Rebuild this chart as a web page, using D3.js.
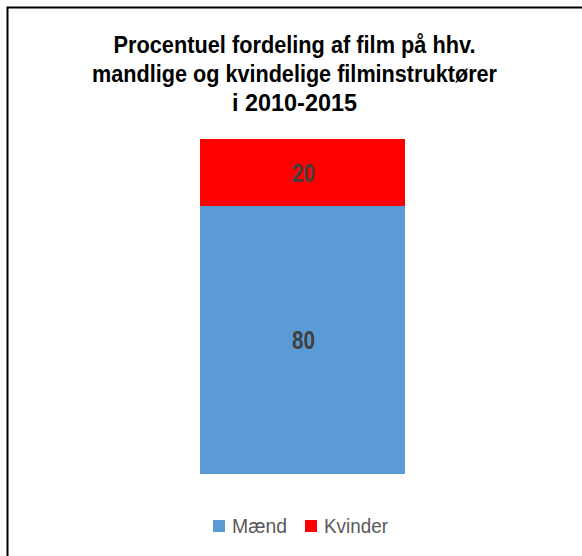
<!DOCTYPE html>
<html>
<head>
<meta charset="utf-8">
<script src="https://cdn.jsdelivr.net/npm/d3@7"></script>
<style>
  body { margin: 0; background: #fff; }
  text { font-family: "Liberation Sans", Arial, sans-serif; }
</style>
</head>
<body>
<svg id="chart" width="582" height="556"></svg>
<script>
// data
const titleLines = ["Procentuel fordeling af film på hhv.", "mandlige og kvindelige filminstruktører", "i 2010-2015"];
const series = ["Mænd", "Kvinder"];
const values = [80, 20];
const colors = ["#5B9BD5", "#FF0000"];
const category = ["2010-2015"];

const svg = d3.select("#chart");

// frame (left + top edge, cut off at right/bottom)
svg.append("path")
  .attr("d", "M7.5,556 L7.5,7.5 L582,7.5")
  .attr("fill", "none")
  .attr("stroke", "#000")
  .attr("stroke-width", 2);

// title, squeezed like the original
const titleY = [53, 82, 111];
const titleW = [362, 405, 125];
svg.append("g").selectAll("text")
  .data(titleLines)
  .join("text")
  .attr("x", 294.5)
  .attr("y", (d, i) => titleY[i])
  .attr("text-anchor", "middle")
  .attr("font-size", 23)
  .attr("font-weight", "bold")
  .attr("fill", "#000")
  .attr("textLength", (d, i) => titleW[i])
  .attr("lengthAdjust", "spacingAndGlyphs")
  .text(d => d);

const x = d3.scaleBand().domain(category).range([200, 405]);
const y = d3.scaleLinear().domain([0, 100]).range([474, 139]);

const stack = d3.stack().keys(series)([{ [series[0]]: values[0], [series[1]]: values[1] }]);

const bars = svg.append("g");
stack.forEach((s, i) => {
  const d = s[0];
  bars.append("rect")
    .attr("x", x(category[0]))
    .attr("width", x.bandwidth())
    .attr("y", y(d[1]))
    .attr("height", y(d[0]) - y(d[1]))
    .attr("fill", colors[i]);
  bars.append("text")
    .attr("x", x(category[0]) + x.bandwidth() / 2 + 1)
    .attr("y", (y(d[0]) + y(d[1])) / 2 + 9)
    .attr("text-anchor", "middle")
    .attr("font-size", 25)
    .attr("font-weight", "bold")
    .attr("fill", "#404040")
    .attr("textLength", 23)
    .attr("lengthAdjust", "spacingAndGlyphs")
    .text(values[i]);
});

// legend
const legX = [213, 305];
const legW = [55, 64];
const leg = svg.append("g");
series.forEach((s, i) => {
  leg.append("rect")
    .attr("x", legX[i]).attr("y", 520)
    .attr("width", 12).attr("height", 12)
    .attr("fill", colors[i]);
  leg.append("text")
    .attr("x", legX[i] + 19).attr("y", 533)
    .attr("font-size", 20)
    .attr("fill", "#595959")
    .attr("textLength", legW[i])
    .attr("lengthAdjust", "spacingAndGlyphs")
    .text(s);
});
</script>
</body>
</html>
